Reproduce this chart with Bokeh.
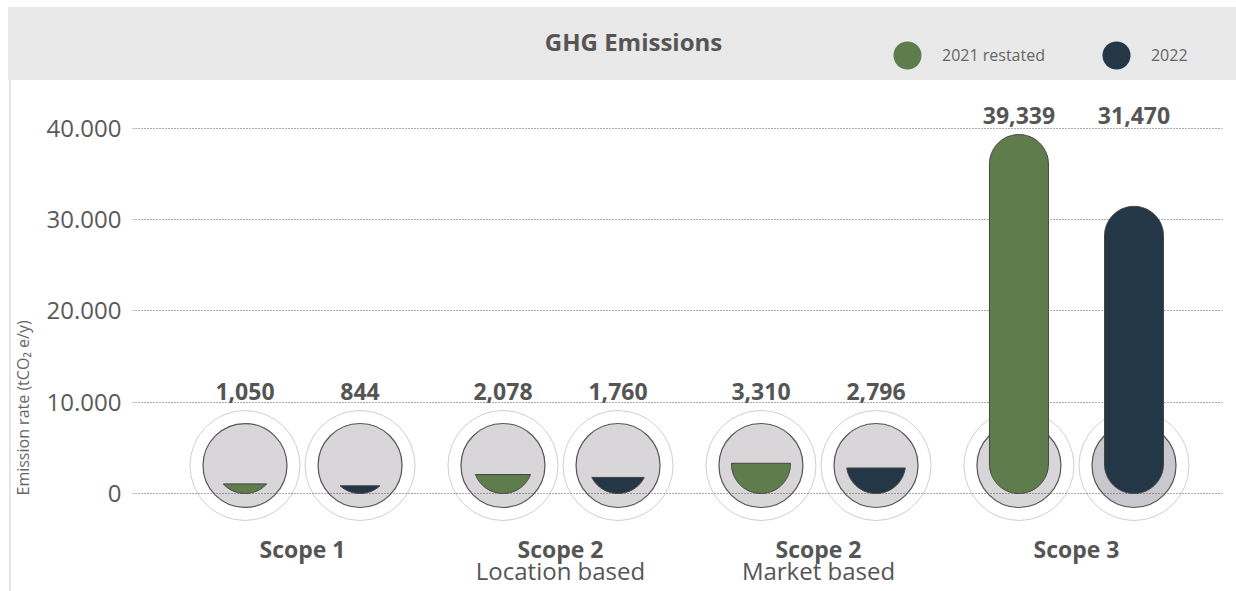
import numpy as np
from bokeh.plotting import figure
from bokeh.models import (Range1d, FixedTicker, LinearAxis, ColumnDataSource,
                          Label, Legend, LegendItem, Title)
from bokeh.embed import file_html
from bokeh.resources import INLINE
from bokeh.core.properties import value

# ---------------- data ----------------
categories = ["Scope 1", "Scope 2", "Scope 2", "Scope 3"]
subtitles = ["", "Location based", "Market based", ""]
series = ["2021 restated", "2022"]
values_2021 = [1050, 2078, 3310, 39339]
values_2022 = [844, 1760, 2796, 31470]
y_ticks = [0, 10000, 20000, 30000, 40000]
y_tick_labels = ["0", "10.000", "20.000", "30.000", "40.000"]
y_title = "Emission rate (tCO\u2082 e/y)"
chart_title = "GHG Emissions"

# ---------------- style ----------------
GREEN = "#5f7c4d"
NAVY = "#243746"
TEXT = "#555555"
FONT = "Open Sans"

W, H = 1236, 591
FRAME_L, FRAME_R, FRAME_T, FRAME_B = 132, 14, 0, 63
frame_w = W - FRAME_L - FRAME_R
frame_h = H - FRAME_T - FRAME_B

x_range = Range1d(-0.659, 3.566)
y_range = Range1d(-3836, 54027)
px_x = frame_w / (x_range.end - x_range.start)
px_y = frame_h / (y_range.end - y_range.start)

OFFSET = 0.223        # half distance between the two bars of a group
R_PX = 29.5           # bar half width / corner radius (px)
INNER_R = 42
OUTER_R = 55
CIRCLE_LIFT = 28      # circle centre above the baseline (px)

hw = R_PX / px_x
ry = R_PX / px_y


def clip_below(xs, ys, lim):
    ox, oy = [], []
    n = len(xs)
    for i in range(n):
        x1, y1 = xs[i], ys[i]
        x2, y2 = xs[(i + 1) % n], ys[(i + 1) % n]
        in1, in2 = y1 <= lim + 1e-9, y2 <= lim + 1e-9
        if in1:
            ox.append(float(x1)); oy.append(float(y1))
        if in1 != in2:
            t = (lim - y1) / (y2 - y1)
            ox.append(float(x1 + t * (x2 - x1))); oy.append(float(lim))
    return ox, oy


def bar_shape(xc, v):
    c_top = max(v - ry, ry)
    t1 = np.linspace(np.pi, 2 * np.pi, 80)
    t2 = np.linspace(0, np.pi, 80)
    xs = np.concatenate([xc + hw * np.cos(t1), xc + hw * np.cos(t2)])
    ys = np.concatenate([ry + ry * np.sin(t1), c_top + ry * np.sin(t2)])
    return clip_below(xs, ys, v)


bx, vals, cols, names, xs_l, ys_l, inner_fill = [], [], [], [], [], [], []
series_x = {s: [] for s in series}
series_v = {s: [] for s in series}
for gi in range(len(categories)):
    for si, (vals_s, col) in enumerate(((values_2021, GREEN), (values_2022, NAVY))):
        xc = gi + (-OFFSET if si == 0 else OFFSET)
        v = vals_s[gi]
        sx, sy = bar_shape(xc, v)
        bx.append(xc); vals.append(v); cols.append(col); names.append(series[si])
        xs_l.append(sx); ys_l.append(sy)
        series_x[series[si]].append(xc); series_v[series[si]].append(v)
        inner_fill.append("#c9c8ce" if (gi == 3 and si == 1) else "#d8d6d8")

circ_y = CIRCLE_LIFT / px_y
circ_top = circ_y + OUTER_R / px_y
label_y = []
for gi in range(len(categories)):
    m = max(values_2021[gi], values_2022[gi], circ_top)
    label_y += [m, m]

bars_src = ColumnDataSource(dict(xs=xs_l, ys=ys_l, color=cols, series=names, value=vals))
circ_src = ColumnDataSource(dict(x=bx, y=[circ_y] * len(bx), fill=inner_fill))
lab_src = ColumnDataSource(dict(x=bx, y=label_y, text=[f"{v:,}" for v in vals]))

# ---------------- figure ----------------
p = figure(width=W, height=H, x_range=x_range, y_range=y_range,
           toolbar_location=None, output_backend="svg",
           min_border_left=FRAME_L, min_border_right=FRAME_R,
           min_border_top=FRAME_T, min_border_bottom=FRAME_B,
           outline_line_color=None, x_axis_location=None, y_axis_location="left",
           background_fill_alpha=0, border_fill_alpha=0)
# grey header band and thin left rule painted behind the transparent canvas
p.styles = {
    "background": ("linear-gradient(#e9e9e9,#e9e9e9) 8px 7px / 1228px 73px no-repeat, "
                   "linear-gradient(#e5e5e5,#e5e5e5) 9px 80px / 2px 511px no-repeat, #ffffff")
}

p.yaxis.ticker = FixedTicker(ticks=y_ticks)
p.yaxis.major_label_overrides = dict(zip(y_ticks, y_tick_labels))
p.yaxis.axis_line_color = None
p.yaxis.major_tick_line_color = None
p.yaxis.minor_tick_line_color = None
p.yaxis.major_tick_out = 0
p.yaxis.major_tick_in = 0
p.yaxis.major_label_standoff = 11
p.yaxis.major_label_text_font = FONT
p.yaxis.major_label_text_font_size = "24px"
p.yaxis.major_label_text_color = "#5a5a5a"

# y-axis title (vertical, placed left of the tick labels)
p.add_layout(Title(text=y_title, align="left", offset=33, standoff=19,
                   text_font=FONT, text_font_size="16px", text_font_style="normal",
                   text_color="#666666"), "left")

p.xgrid.visible = False
p.ygrid.ticker = FixedTicker(ticks=y_ticks)
p.ygrid.grid_line_color = "#555555"
p.ygrid.grid_line_dash = "1 2"
p.ygrid.grid_line_width = 1

for labels, style, standoff, size in ((categories, "bold", 4, "23px"),
                                      (subtitles, "normal", -14, "24px")):
    ax = LinearAxis(ticker=FixedTicker(ticks=list(range(len(categories)))),
                    major_label_overrides={i: t for i, t in enumerate(labels)},
                    axis_line_color=None, major_tick_line_color=None,
                    minor_tick_line_color=None, major_tick_out=0, major_tick_in=0,
                    major_label_standoff=standoff,
                    major_label_text_font=FONT, major_label_text_font_style=style,
                    major_label_text_font_size=size, major_label_text_color=TEXT)
    p.add_layout(ax, "below")

# header content (inside the frame, which spans up to the top of the canvas)
p.add_layout(Label(x=633 - FRAME_L, y=(H - FRAME_B) - 41, x_units="screen", y_units="screen",
                   text=chart_title, text_font=FONT, text_font_style="bold",
                   text_font_size="24px", text_color=TEXT,
                   text_align="center", text_baseline="middle"))

leg_r = []
for s, col in zip(series, (GREEN, NAVY)):
    r = p.scatter(x=series_x[s], y=series_v[s], marker="circle", fill_color=col,
                  line_color=None, visible=False)
    leg_r.append(r)
legend = Legend(items=[LegendItem(label=s, renderers=[r]) for s, r in zip(series, leg_r)],
                location=(872 - FRAME_L, (H - FRAME_B) - 55 - 35), orientation="horizontal",
                glyph_width=70, glyph_height=70, label_standoff=0, spacing=36,
                padding=0, margin=0, border_line_color=None, background_fill_alpha=0,
                inactive_fill_alpha=0, label_text_font=FONT, label_text_font_size="16px",
                label_text_color="#666666")
p.add_layout(legend)

p.circle(x="x", y="y", radius=OUTER_R, radius_units="screen", source=circ_src,
         fill_color="white", line_color="#cfcfcf", line_width=1, level="image")
p.circle(x="x", y="y", radius=INNER_R, radius_units="screen", source=circ_src,
         fill_color="fill", line_color="#555555", line_width=1.2, level="image")
p.patches(xs="xs", ys="ys", source=bars_src, fill_color="color",
          line_color="#444444", line_width=1)
p.text(x="x", y="y", text="text", source=lab_src, text_font=value(FONT),
       text_font_style="bold", text_font_size="23px", text_color=TEXT,
       text_align="center", text_baseline="middle", y_offset=-19)

open("out.html", "w").write(file_html(p, INLINE))
